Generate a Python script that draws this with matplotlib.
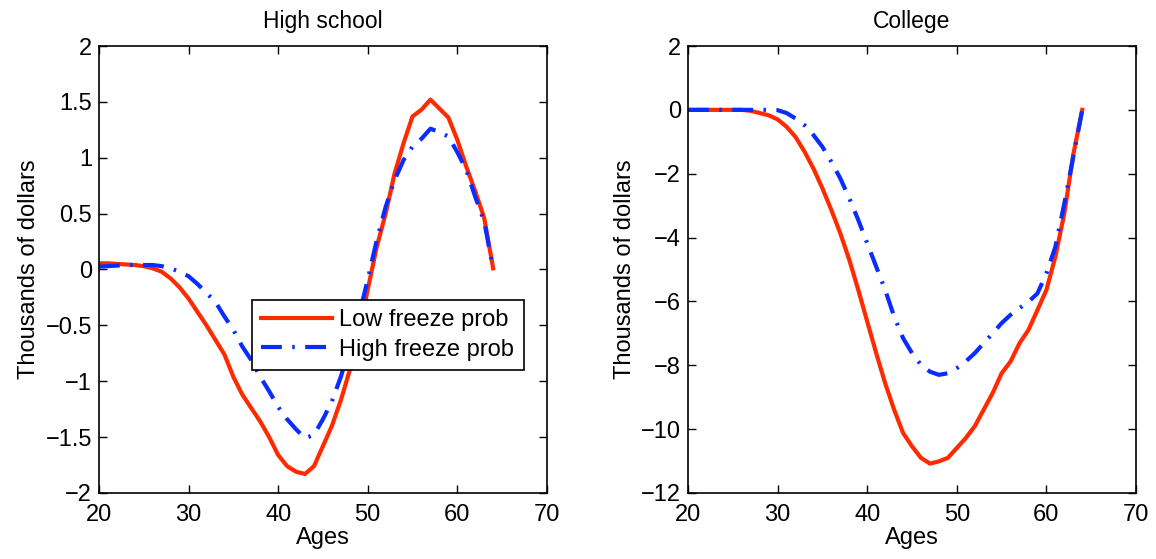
import matplotlib
matplotlib.use("Agg")
import matplotlib.pyplot as plt
from matplotlib.ticker import FuncFormatter

plt.rcParams['font.family'] = ['Liberation Sans', 'DejaVu Sans']

# Data
ages = list(range(20, 65))

hs_low = [0.055, 0.055, 0.05, 0.045, 0.04, 0.03, 0.01, -0.02, -0.08, -0.16,
          -0.26, -0.38, -0.50, -0.63, -0.76, -0.96, -1.12, -1.24, -1.36, -1.50,
          -1.66, -1.76, -1.81, -1.83, -1.76, -1.58, -1.40, -1.17, -0.90, -0.57,
          -0.18, 0.20, 0.50, 0.86, 1.13, 1.37, 1.43, 1.52, 1.44, 1.36,
          1.16, 0.92, 0.70, 0.46, 0.01]
hs_high = [0.025, 0.03, 0.035, 0.04, 0.04, 0.04, 0.04, 0.03, 0.01, -0.02,
           -0.06, -0.13, -0.21, -0.29, -0.42, -0.54, -0.69, -0.81, -0.96, -1.09,
           -1.23, -1.34, -1.43, -1.51, -1.48, -1.34, -1.18, -0.96, -0.69, -0.42,
           -0.09, 0.26, 0.56, 0.80, 0.98, 1.10, 1.17, 1.26, 1.23, 1.19,
           1.05, 0.89, 0.65, 0.43, 0.01]

col_low = [0.0, 0.0, 0.0, 0.0, 0.0, 0.0, 0.0, -0.03, -0.10, -0.17,
           -0.30, -0.53, -0.85, -1.31, -1.84, -2.46, -3.14, -3.87, -4.70, -5.64,
           -6.63, -7.62, -8.56, -9.39, -10.12, -10.54, -10.90, -11.08, -11.01, -10.90,
           -10.59, -10.28, -9.91, -9.39, -8.87, -8.25, -7.88, -7.31, -6.89, -6.27,
           -5.64, -4.60, -3.24, -1.40, 0.0]
col_high = [0.0, 0.0, 0.0, 0.0, 0.0, 0.0, 0.0, 0.0, 0.0, 0.0,
            -0.01, -0.10, -0.27, -0.48, -0.79, -1.16, -1.63, -2.15, -2.77, -3.45,
            -4.18, -4.91, -5.64, -6.47, -7.15, -7.62, -7.99, -8.20, -8.30, -8.25,
            -8.09, -7.88, -7.62, -7.31, -7.00, -6.68, -6.42, -6.21, -6.01, -5.75,
            -5.12, -4.29, -2.93, -1.47, 0.0]

red = '#ff2a00'
blue = '#0a2dff'
dashdot = (0, (5, 2.5, 0.6, 2.5))
fs = 17

fig = plt.figure(figsize=(11.56, 5.59), dpi=100)
ax1 = fig.add_axes([0.0856, 0.1181, 0.3875, 0.7996])
ax2 = fig.add_axes([0.5952, 0.1181, 0.3875, 0.7996])


def style(ax, title, yticks):
    ax.set_xlim(20, 70)
    ax.set_xticks([20, 30, 40, 50, 60, 70])
    ax.set_ylim(yticks[0], yticks[-1])
    ax.set_yticks(yticks)
    ax.yaxis.set_major_formatter(FuncFormatter(lambda v, p: ('%g' % v).replace('-', '\u2212')))
    ax.tick_params(direction='in', top=True, right=True, length=6, width=1,
                   labelsize=fs)
    ax.tick_params(axis='x', pad=8)
    ax.tick_params(axis='y', pad=5)
    for s in ax.spines.values():
        s.set_linewidth(1.2)
    ax.set_title(title, fontsize=16.5, pad=13)
    ax.set_xlabel('Ages', fontsize=fs, labelpad=1)
    ax.set_ylabel('Thousands of dollars', fontsize=fs, labelpad=4)


ax1.plot(ages, hs_low, color=red, lw=3, label='Low freeze prob')
ax1.plot(ages, hs_high, color=blue, lw=3, ls=dashdot, label='High freeze prob')
style(ax1, 'High school', [-2, -1.5, -1, -0.5, 0, 0.5, 1, 1.5, 2])

ax2.plot(ages, col_low, color=red, lw=3)
ax2.plot(ages, col_high, color=blue, lw=3, ls=dashdot)
style(ax2, 'College', [-12, -10, -8, -6, -4, -2, 0, 2])

leg = ax1.legend(loc='upper left', bbox_to_anchor=(0.3415, 0.4318), fontsize=fs,
                 fancybox=False, edgecolor='black', framealpha=1,
                 handlelength=3.0, handletextpad=0.3, borderpad=0.4,
                 labelspacing=0.3, borderaxespad=0)
leg.get_frame().set_linewidth(1.2)

fig.savefig('out.png', dpi=100)
